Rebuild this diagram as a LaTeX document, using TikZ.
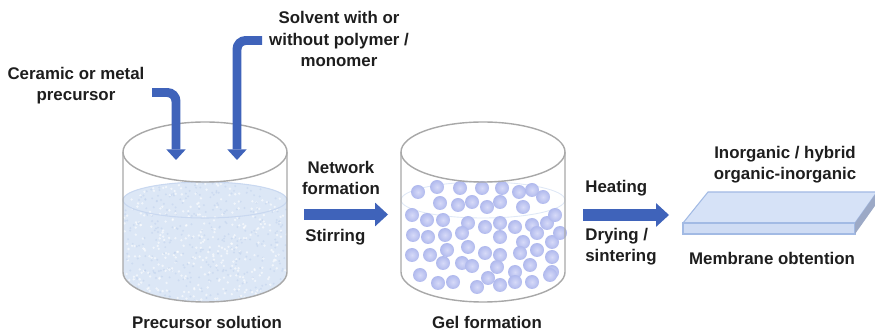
\documentclass[tikz,border=0pt]{standalone}
\usepackage{fontspec}
\setmainfont{Liberation Sans}
\usepackage{xcolor}
\usetikzlibrary{arrows.meta,positioning}

\definecolor{arrowblue}{HTML}{3F63BA}
\definecolor{wallgray}{HTML}{A8A8A8}
\definecolor{liquid}{HTML}{DCE7F6}
\definecolor{speck}{HTML}{C3D4EE}
\definecolor{surface}{HTML}{C9D8F0}
\definecolor{beadin}{HTML}{D6DAF8}
\definecolor{beadout}{HTML}{B0B9ED}
\definecolor{slabtop}{HTML}{D6E2F7}
\definecolor{slabfront}{HTML}{CFDCF4}
\definecolor{slabedge}{HTML}{A2BAE4}
\definecolor{slabside}{HTML}{9CA9C6}
\definecolor{txt}{HTML}{1E1E1E}

\begin{document}
\begin{tikzpicture}[x=0.02cm, y=-0.02cm,
    feed/.style={line width=5.1pt, arrowblue, -{Triangle[width=11pt,length=6pt,line width=0pt]}},
    flow/.style={line width=6.3pt, arrowblue, -{Triangle[width=13.6pt,length=7.4pt,line width=0pt]}},
    note/.style={text=txt, font=\fontsize{9.6}{12}\selectfont\bfseries, inner sep=0pt, align=center},
    wall/.style={wallgray, line width=0.8pt}]
    \useasboundingbox (0,0) rectangle (875,330);

    % precursor solution (speckled liquid)
    \begin{scope}
        \clip (123,200) arc[start angle=180, end angle=360, x radius=82, y radius=18]
              -- (287,272) arc[start angle=0, end angle=180, x radius=82, y radius=30] -- cycle;
        \fill[liquid] (120,180) rectangle (290,305);
        \pgfmathsetseed{7}
        \foreach \i in {1,...,350} {
            \fill[white, opacity=0.6] (205+82*rand, 242+60*rand) circle (1.3);
            \fill[speck, opacity=0.6] (205+82*rand, 242+60*rand) circle (1.1);
        }
    \end{scope}
    \draw[surface, line width=0.6pt] (205,200) ellipse [x radius=82, y radius=18];

    % gel beads
    \draw[surface!60, line width=0.5pt] (483,200) ellipse [x radius=82, y radius=18];
    \foreach \x/\y in {418/192, 437/187, 460/188, 482/188, 502/188, 519/192, 532/190, 543/197,
                       440/203, 458/205, 472/202, 487/207, 500/202, 523/207,
                       412/215, 427/220, 443/220, 468/223, 485/227, 500/223, 515/227, 532/225, 547/223, 555/215,
                       413/235, 428/237, 445/235, 462/233, 500/237, 523/242, 537/233, 552/242, 560/233,
                       412/255, 430/255, 447/250, 468/247, 485/253, 500/255, 520/253, 537/250, 552/257,
                       443/263, 462/263, 472/266, 497/267, 515/272, 530/265, 552/272,
                       420/275, 438/283, 453/282, 477/287, 488/278, 500/285, 515/282, 532/282, 550/275}
        \shade[inner color=beadin, outer color=beadout] (\x,\y) circle (7);

    % the two beakers
    \foreach \cx in {205,483} {
        \draw[wall] (\cx,152) ellipse [x radius=82, y radius=30];
        \draw[wall] (\cx-82,152) -- (\cx-82,272)
                    arc[start angle=180, end angle=0, x radius=82, y radius=30] -- (\cx+82,152);
    }

    % membrane slab
    \draw[slabedge, fill=slabtop, line width=0.6pt] (708,192) -- (877,192) -- (855,223) -- (683,223) -- cycle;
    \draw[slabedge, fill=slabfront, line width=0.6pt] (683,223) rectangle (855,234);
    \fill[slabside] (855,223) -- (877,192) -- (877,203) -- (855,234) -- cycle;

    % texts
    \node[note] (ceramic) at (76,86) {Ceramic or metal\\precursor};
    \node[note] (solvent) at (339,39) {Solvent with or\\without polymer /\\monomer};
    \node[note] (network) at (341,178) {Network\\formation};
    \node[note, anchor=west] (stirring) at (305,237) {Stirring};
    \node[note, anchor=west] (heating) at (585,188) {Heating};
    \node[note, anchor=west, align=left] (drying) at (585,247) {Drying /\\sintering};
    \node[note] (precsol) at (207,322) {Precursor solution};
    \node[note] (gelform) at (487,322) {Gel formation};
    \node[note] (hybrid) at (785,165) {Inorganic / hybrid\\organic-inorganic};
    \node[note] (membrane) at (772,258) {Membrane obtention};

    % arrows
    \coordinate (ceramicend) at (152,92.5);
    \coordinate (ceramictip) at (176,160);
    \coordinate (solventend) at (262,40.5);
    \coordinate (solventtip) at (237,160);
    \coordinate (gelstart) at (304,214.5);
    \coordinate (geltip) at (388,214.5);
    \coordinate (drystart) at (583,215);
    \coordinate (drytip) at (669,215);
    \draw[feed, rounded corners=5pt] (ceramicend) -| (ceramictip);
    \draw[feed, rounded corners=5pt] (solventend) -| (solventtip);
    \draw[flow] (gelstart) -- (geltip);
    \draw[flow] (drystart) -- (drytip);
\end{tikzpicture}
\end{document}
